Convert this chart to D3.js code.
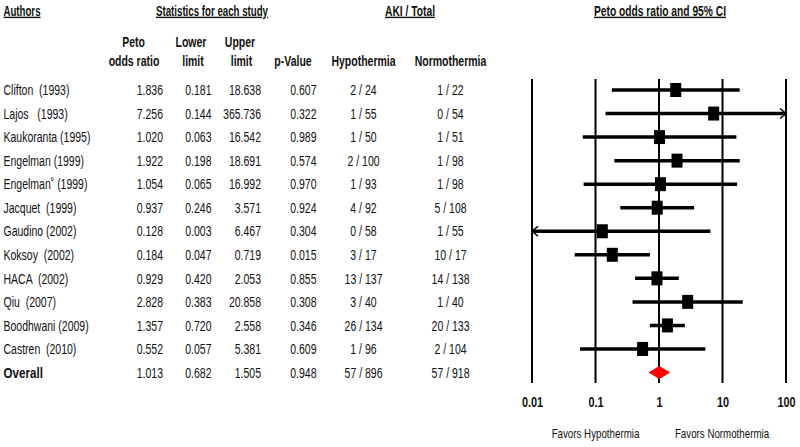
<!DOCTYPE html>
<html>
<head>
<meta charset="utf-8">
<script src="https://cdn.jsdelivr.net/npm/d3@7"></script>
<style>
  html, body { margin: 0; padding: 0; background: #fff; }
  svg { display: block; }
  text { font-family: "Liberation Sans", Arial, sans-serif; fill: #111; }
</style>
</head>
<body>
<svg id="chart" width="800" height="447"></svg>
<script>
// ---- data ----
const authors = ["Clifton  (1993)", "Lajos   (1993)", "Kaukoranta (1995)", "Engelman (1999)", "Engelman\u02DA (1999)",
  "Jacquet  (1999)", "Gaudino (2002)", "Koksoy  (2002)", "HACA  (2002)", "Qiu  (2007)", "Boodhwani (2009)", "Castren  (2010)"];
const oddsRatio = [1.836, 7.256, 1.020, 1.922, 1.054, 0.937, 0.128, 0.184, 0.929, 2.828, 1.357, 0.552];
const lowerLimit = [0.181, 0.144, 0.063, 0.198, 0.065, 0.246, 0.003, 0.047, 0.420, 0.383, 0.720, 0.057];
const upperLimit = [18.638, 365.736, 16.542, 18.691, 16.992, 3.571, 6.467, 0.719, 2.053, 20.858, 2.558, 5.381];
const pValues = ["0.607", "0.322", "0.989", "0.574", "0.970", "0.924", "0.304", "0.015", "0.855", "0.308", "0.346", "0.609"];
const hypothermia = ["2 / 24", "1 / 55", "1 / 50", "2 / 100", "1 / 93", "4 / 92", "0 / 58", "3 / 17", "13 / 137", "3 / 40", "26 / 134", "1 / 96"];
const normothermia = ["1 / 22", "0 / 54", "1 / 51", "1 / 98", "1 / 98", "5 / 108", "1 / 55", "10 / 17", "14 / 138", "1 / 40", "20 / 133", "2 / 104"];
const overallLabel = "Overall";
const overallOR = 1.013, overallLower = 0.682, overallUpper = 1.505;
const overallP = "0.948", overallHypo = "57 / 896", overallNormo = "57 / 918";
const tickValues = [0.01, 0.1, 1, 10, 100];
const tickLabels = ["0.01", "0.1", "1", "10", "100"];

// ---- layout ----
const SX = 0.75; // horizontal condensing to mimic a narrow font
const FS = 14;
const svg = d3.select("#chart");
const nRows = authors.length + 1;
const y = d3.scalePoint().domain(d3.range(nRows)).range([90, 372.5]);
const x = d3.scaleLog().domain([0.01, 100]).range([532, 786]);
const fmt = d3.format(".3f");

function place(sel, px, py) {
  return sel.attr("x", 0).attr("y", 0).attr("transform", `translate(${px},${py}) scale(${SX},1)`);
}

// top (underlined) headers
function topHdr(txt, x0, width, cy) {
  svg.append("text").attr("x", x0).attr("y", cy).attr("dominant-baseline", "middle")
    .attr("font-size", 14).attr("font-weight", "bold").attr("text-decoration", "underline")
    .attr("textLength", width).attr("lengthAdjust", "spacingAndGlyphs").text(txt);
}
topHdr("Authors", 3.5, 37, 12);
topHdr("Statistics for each study", 156, 112, 12);
topHdr("AKI / Total", 385, 50, 12);
topHdr("Peto odds ratio and 95% CI", 594, 132, 12);

// column headers
function hdr(txt, cx, cy) {
  return place(svg.append("text"), cx, cy).attr("text-anchor", "middle")
    .attr("dominant-baseline", "middle").attr("font-size", FS).attr("font-weight", "bold").text(txt);
}
hdr("Peto", 133.5, 43);
hdr("odds ratio", 134, 62.5);
hdr("Lower", 191, 43);
hdr("limit", 193, 62.5);
hdr("Upper", 240, 43);
hdr("limit", 241.5, 62.5);
hdr("p-Value", 293, 62.5);
hdr("Hypothermia", 363.5, 62.5);
hdr("Normothermia", 450.5, 62.5);

// table rows
const rows = authors.map((a, i) => ({
  i, author: a, or: oddsRatio[i], lo: lowerLimit[i], hi: upperLimit[i],
  p: pValues[i], hypo: hypothermia[i], normo: normothermia[i]
}));
const overall = { i: nRows - 1, author: overallLabel, or: overallOR, lo: overallLower, hi: overallUpper,
  p: overallP, hypo: overallHypo, normo: overallNormo };
const all = rows.concat([overall]);

const cols = [
  { key: d => d.author, x: 3.5, anchor: "start" },
  { key: d => fmt(d.or), x: 163, anchor: "end" },
  { key: d => fmt(d.lo), x: 211.5, anchor: "end" },
  { key: d => fmt(d.hi), x: 261, anchor: "end" },
  { key: d => d.p, x: 316.5, anchor: "end" },
  { key: d => d.hypo, x: 363.5, anchor: "middle" },
  { key: d => d.normo, x: 450.5, anchor: "middle" }
];
cols.forEach((c, ci) => {
  svg.append("g").selectAll("text").data(all).join("text")
    .attr("x", 0).attr("y", 0)
    .attr("transform", d => `translate(${c.x},${y(d.i) + 1.5}) scale(${SX},1)`)
    .attr("text-anchor", c.anchor)
    .attr("dominant-baseline", "middle")
    .style("white-space", "pre")
    .attr("font-size", d => (ci === 0 && d.i === nRows - 1) ? 15.5 : FS)
    .attr("font-weight", d => (ci === 0 && d.i === nRows - 1) ? "bold" : "normal")
    .text(c.key);
});

// forest plot gridlines
svg.append("g").selectAll("line").data(tickValues).join("line")
  .attr("x1", d => x(d)).attr("x2", d => x(d)).attr("y1", 79).attr("y2", 383)
  .attr("stroke", "#000").attr("stroke-width", 2);

// axis labels
const axis = d3.axisBottom(x).tickValues(tickValues).tickSize(0).tickPadding(0)
  .tickFormat((d, i) => tickLabels[i]);
const ag = svg.append("g").attr("transform", "translate(0,403.5)").call(axis);
ag.select(".domain").remove();
ag.selectAll("text").attr("font-size", 14.5).attr("font-weight", "bold").attr("fill", "#111")
  .attr("y", 0).attr("dy", null).attr("dominant-baseline", "middle")
  .attr("transform", `scale(${SX},1)`)
  .style("font-family", "'Liberation Sans',Arial,sans-serif");

// CI lines
const xmin = x.domain()[0], xmax = x.domain()[1];
const ci = svg.append("g");
ci.selectAll("line").data(rows).join("line")
  .attr("x1", d => x(Math.max(d.lo, xmin))).attr("x2", d => x(Math.min(d.hi, xmax)))
  .attr("y1", d => y(d.i)).attr("y2", d => y(d.i))
  .attr("stroke", "#000").attr("stroke-width", 3.5);

// arrows for truncated CIs
rows.filter(d => d.hi > xmax).forEach(d => {
  const xe = x(xmax), yy = y(d.i);
  ci.append("path").attr("d", `M${xe - 6},${yy - 5}L${xe},${yy}L${xe - 6},${yy + 5}`)
    .attr("fill", "none").attr("stroke", "#000").attr("stroke-width", 1.5);
});
rows.filter(d => d.lo < xmin).forEach(d => {
  const xe = x(xmin), yy = y(d.i);
  ci.append("path").attr("d", `M${xe + 6},${yy - 5}L${xe},${yy}L${xe + 6},${yy + 5}`)
    .attr("fill", "none").attr("stroke", "#000").attr("stroke-width", 1.5);
});

// point estimates
svg.append("g").selectAll("rect").data(rows).join("rect")
  .attr("x", d => x(d.or) - 5.5).attr("y", d => y(d.i) - 7)
  .attr("width", 11).attr("height", 14).attr("fill", "#000");

// overall diamond
const yo = y(overall.i);
svg.append("path")
  .attr("d", `M${x(overall.lo)},${yo}L${x(overall.or)},${yo - 6.5}L${x(overall.hi)},${yo}L${x(overall.or)},${yo + 6.5}Z`)
  .attr("fill", "#ff0000");

// favors labels
place(svg.append("text"), 595.5, 435).attr("text-anchor", "middle")
  .attr("dominant-baseline", "middle").attr("font-size", 13).text("Favors Hypothermia");
place(svg.append("text"), 722, 435).attr("text-anchor", "middle")
  .attr("dominant-baseline", "middle").attr("font-size", 13).text("Favors Normothermia");
</script>
</body>
</html>
